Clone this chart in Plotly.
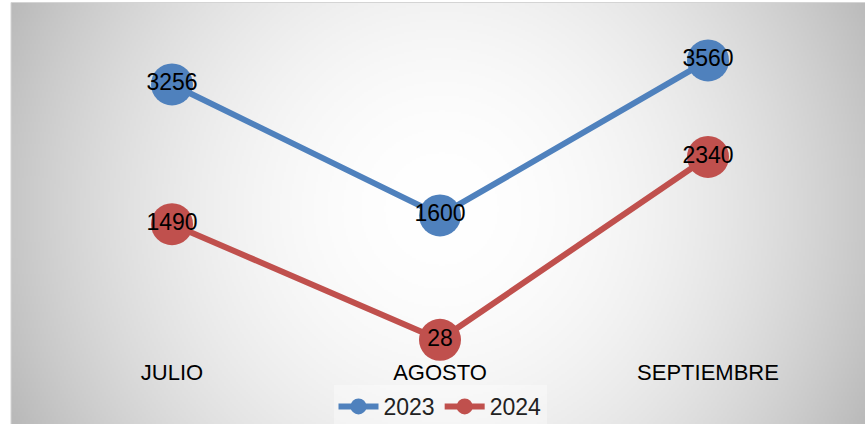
import base64
import struct
import zlib

import numpy as np
import plotly.graph_objects as go

# ---------------- data ----------------
categories = ["JULIO", "AGOSTO", "SEPTIEMBRE"]
values_2023 = [3256, 1600, 3560]
values_2024 = [1490, 28, 2340]
series_names = ["2023", "2024"]

# ---------------- layout geometry (pixels) ----------------
W, H = 865, 424
L, R, T, B = 38, 23, 26, 82
PW, PH = W - L - R, H - T - B


def fx(px):
    return (px - L) / PW


def fy(py):
    return (H - B - py) / PH


# ---------------- radial gradient background as PNG ----------------
def gradient_png(w, h, scale):
    ys, xs = np.mgrid[0:h, 0:w].astype(float)
    cx, cy = (440 - 11) / scale, 205 / scale
    d = np.sqrt((xs - cx) ** 2 + (ys - cy) ** 2) * scale
    v = 255 - 56 * (d / 428.0) ** 2
    v = np.clip(v, 185, 255).astype(np.uint8)
    raw = b"".join(b"\x00" + v[i].tobytes() for i in range(h))

    def chunk(tag, data):
        c = struct.pack(">I", len(data)) + tag + data
        return c + struct.pack(">I", zlib.crc32(tag + data) & 0xFFFFFFFF)

    png = b"\x89PNG\r\n\x1a\n"
    png += chunk(b"IHDR", struct.pack(">IIBBBBB", w, h, 8, 0, 0, 0, 0))
    png += chunk(b"IDAT", zlib.compress(raw, 9))
    png += chunk(b"IEND", b"")
    return "data:image/png;base64," + base64.b64encode(png).decode()


bx0, by0, bx1, by1 = 11, 2.5, 866, 425
img_src = gradient_png(int((bx1 - bx0) / 2), int((by1 - by0) / 2), 2)

BLUE = "#4F81BD"
RED = "#C0504D"
FONT = "Liberation Sans"

fig = go.Figure()
for name, vals, col in [(series_names[0], values_2023, BLUE), (series_names[1], values_2024, RED)]:
    fig.add_trace(
        go.Scatter(
            x=categories,
            y=vals,
            name=name,
            mode="lines+markers+text",
            line=dict(color=col, width=6),
            marker=dict(color=col, size=42),
            text=[str(v) for v in vals],
            textposition="middle center",
            textfont=dict(family=FONT, size=23, color="#000000"),
            cliponaxis=False,
        )
    )

fig.update_layout(
    width=W,
    height=H,
    margin=dict(l=L, r=R, t=T, b=B, pad=0, autoexpand=False),
    paper_bgcolor="white",
    plot_bgcolor="rgba(0,0,0,0)",
    font=dict(family=FONT, color="#000000"),
    showlegend=True,
    legend=dict(
        orientation="h",
        x=0.5,
        xanchor="center",
        y=fy(428),
        yanchor="bottom",
        bgcolor="rgba(255,255,255,0.35)",
        font=dict(family=FONT, size=23, color="#222222"),
        itemwidth=40,
        tracegroupgap=0,
    ),
    xaxis=dict(
        range=[-0.5, 2.5],
        showgrid=False,
        zeroline=False,
        showline=False,
        ticks="",
        tickfont=dict(family=FONT, size=22, color="#000000"),
        ticklabelstandoff=15,
        automargin=False,
        fixedrange=True,
    ),
    yaxis=dict(
        range=[0, PH / 0.0791],
        visible=False,
        showgrid=False,
        zeroline=False,
        automargin=False,
        fixedrange=True,
    ),
    images=[
        dict(
            source=img_src,
            xref="paper",
            yref="paper",
            x=fx(bx0),
            y=fy(by0),
            sizex=fx(bx1) - fx(bx0),
            sizey=fy(by0) - fy(by1),
            xanchor="left",
            yanchor="top",
            sizing="stretch",
            layer="below",
        )
    ],
    shapes=[
        dict(
            type="rect",
            xref="paper",
            yref="paper",
            x0=fx(bx0),
            x1=fx(bx1),
            y0=fy(by1),
            y1=fy(by0),
            line=dict(color="#d4d4d4", width=1),
            fillcolor="rgba(0,0,0,0)",
            layer="below",
        )
    ],
)

fig.write_html(
    "out.html",
    config={"displayModeBar": False},
    post_script="document.body.style.margin='0';document.body.style.overflow='hidden';",
)
